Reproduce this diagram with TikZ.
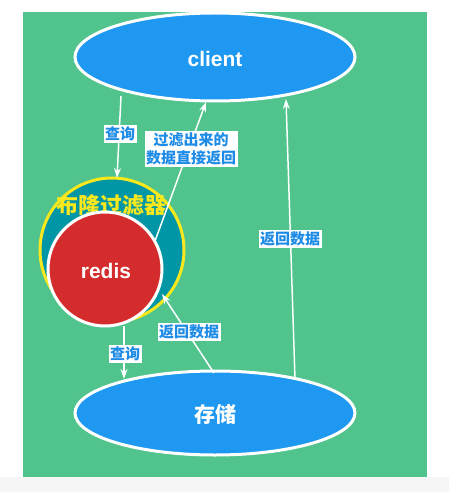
\documentclass[tikz,border=0pt]{standalone}
\usepackage{fontspec}
\setmainfont{Noto Sans CJK SC}
\newfontfamily\latinfont{Liberation Sans}
\usetikzlibrary{arrows.meta}
\definecolor{bggreen}{RGB}{80,196,140}
\definecolor{ellblue}{RGB}{30,152,240}
\definecolor{bloomteal}{RGB}{0,150,165}
\definecolor{bloomyellow}{RGB}{250,232,30}
\definecolor{redisred}{RGB}{212,44,44}
\definecolor{lblblue}{RGB}{30,140,230}
\definecolor{stripgray}{RGB}{246,246,246}
\begin{document}
\begin{tikzpicture}[x=1pt,y=-1pt,
  big/.style={text=white,font=\bfseries\fontsize{21}{21}\selectfont},
  conn/.style={draw=white,line width=1.5pt,-{Stealth[length=10pt,width=7pt]}},
  lbl/.style={fill=white,text=lblblue,font=\bfseries\fontsize{15}{18}\selectfont,inner sep=1.5pt,align=center}]
\useasboundingbox (0,0) rectangle (449,492);
\fill[stripgray] (0,477) rectangle (449,492);
\fill[bggreen] (23,12) rectangle (427,477);
% client
\draw[white,line width=3pt,fill=ellblue] (215,57) ellipse [x radius=140,y radius=44];
\node[big,font=\latinfont\bfseries\fontsize{21}{21}\selectfont] (client) at (215,59) {client};
\coordinate (clientS1) at (121,96);
\coordinate (clientS2) at (206,102);
\coordinate (clientS3) at (286,99);
% storage
\draw[white,line width=3pt,fill=ellblue] (215,413) ellipse [x radius=140,y radius=42];
\node[big] (store) at (215,414) {存储};
\coordinate (storeN1) at (124,379);
\coordinate (storeN2) at (214,373);
\coordinate (storeN3) at (295,379);
% bloom filter
\draw[bloomyellow,line width=3pt,fill=bloomteal] (112,250) circle [radius=72];
\node[text=bloomyellow,font=\bfseries\fontsize{22}{22}\selectfont] (bloom) at (111,205) {布隆过滤器};
\coordinate (bloomN) at (117,178);
% redis
\draw[white,line width=3pt,fill=redisred] (105,269) circle [radius=57];
\node[big,font=\latinfont\bfseries\fontsize{21}{21}\selectfont] (redis) at (106,271) {redis};
\coordinate (redisNE) at (155,241);
\coordinate (redisS) at (124,326);
\coordinate (redisSE) at (162,294);
% connectors
\draw[conn] (clientS1) -- (bloomN);
\node[lbl] at (120,134) {查询};
\draw[conn] (redisNE) -- (clientS2);
\node[lbl] at (191,149) {过滤出来的\\数据直接返回};
\draw[conn] (redisS) -- (storeN1);
\node[lbl] at (125,354) {查询};
\draw[conn] (storeN2) -- (redisSE);
\node[lbl] at (189,332) {返回数据};
\draw[conn] (storeN3) -- (clientS3);
\node[lbl] at (290,239) {返回数据};
\end{tikzpicture}
\end{document}
